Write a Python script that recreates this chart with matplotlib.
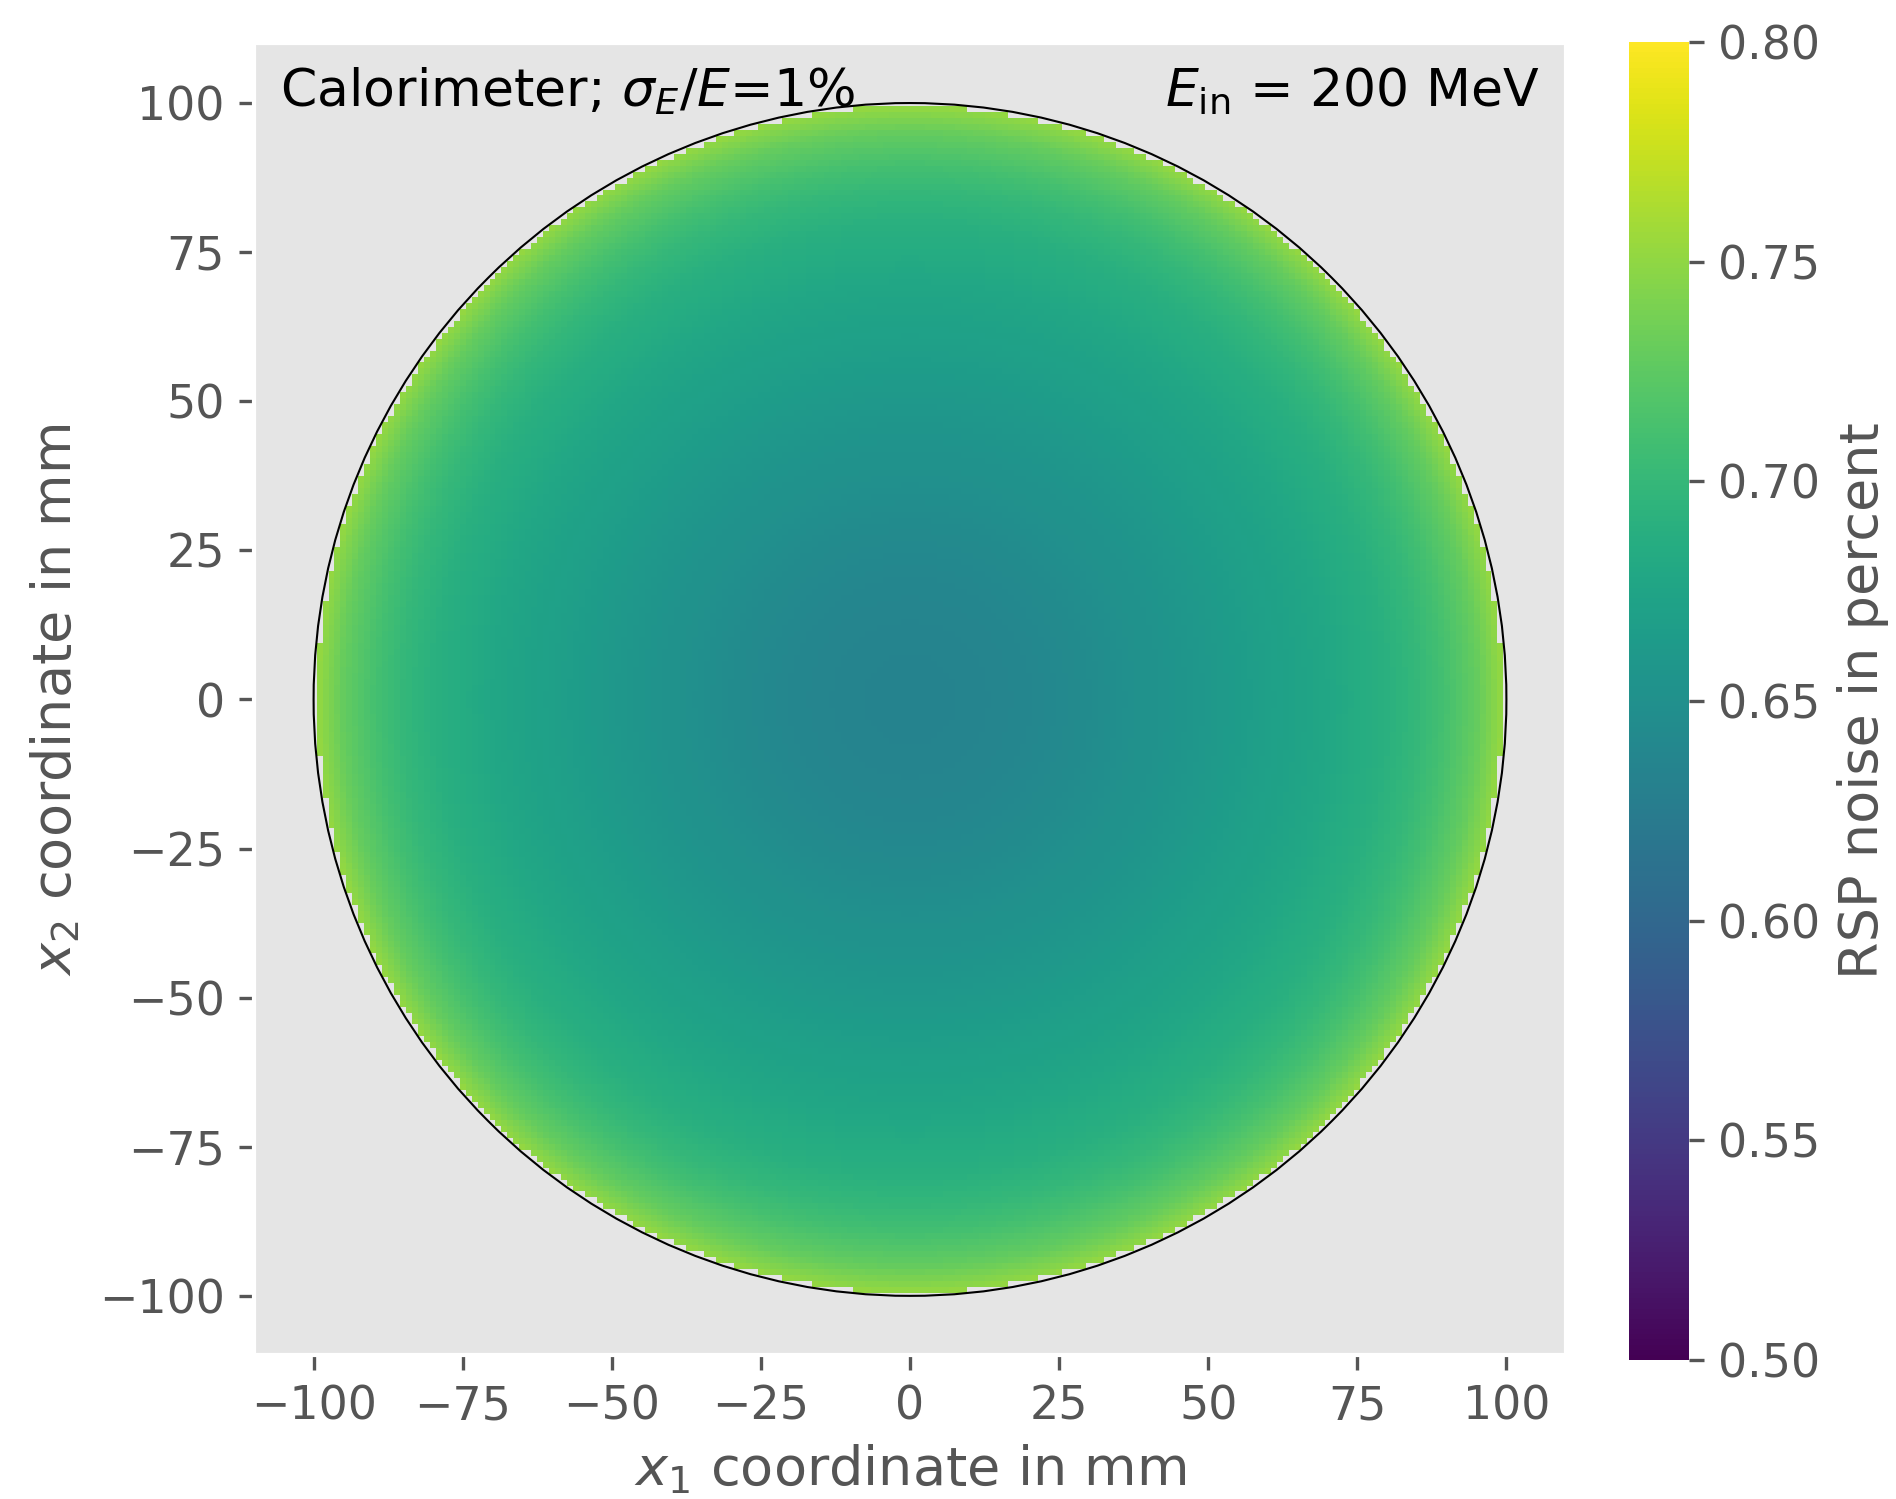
import numpy as np
import matplotlib
matplotlib.use("Agg")
import matplotlib.pyplot as plt
from matplotlib.patches import Circle

plt.style.use("ggplot")

# radial noise profile (radius in mm, RSP noise in %)
radius_mm = [0, 10, 20, 30, 40, 50, 60, 70, 80, 85, 90, 95, 100]
noise_pct = [0.634, 0.635, 0.638, 0.644, 0.652, 0.660, 0.669, 0.678,
             0.690, 0.699, 0.712, 0.729, 0.755]

detector_radius = 100
pixel_mm = 1.0
cbar_ticks = [0.50, 0.55, 0.60, 0.65, 0.70, 0.75, 0.80]

# 1 mm pixels centred on integer positions; keep only pixels fully inside
centers = np.arange(-detector_radius, detector_radius + pixel_mm, pixel_mm)
edges = np.append(centers - pixel_mm / 2, centers[-1] + pixel_mm / 2)
X, Y = np.meshgrid(centers, centers)
R = np.hypot(X, Y)
R_corner = np.hypot(np.abs(X) + pixel_mm / 2, np.abs(Y) + pixel_mm / 2)
noise = np.interp(R, radius_mm, noise_pct)
noise = np.ma.masked_where(R_corner > detector_radius, noise)

fig = plt.figure(figsize=(6.32, 4.997), dpi=300)
ax = fig.add_axes([253 / 1896, 1 - 1355.5 / 1499, 1314 / 1896, 1312 / 1499])
cax = fig.add_axes([1629 / 1896, 1 - 1360 / 1499, 60 / 1896, 1318 / 1499])

ax.set_facecolor("#E5E5E5")
ax.grid(False)
im = ax.pcolormesh(edges, edges, noise, cmap="viridis", vmin=0.5, vmax=0.8,
                   shading="flat", rasterized=True)
ax.add_patch(Circle((0, 0), detector_radius, fill=False, ec="black", lw=0.5))
ax.set_xlim(-110, 110)
ax.set_ylim(-110, 110)
ax.set_aspect("equal")
ax.set_xticks(np.arange(-100, 101, 25))
ax.set_yticks(np.arange(-100, 101, 25))
ax.tick_params(labelsize=11, colors="#555555")
ax.set_xlabel(r"$x_1$ coordinate in mm", fontsize=13, color="#555555",
              labelpad=3)
ax.set_ylabel(r"$x_2$ coordinate in mm", fontsize=13, color="#555555")

ax.text(0.02, 0.983, r"Calorimeter; $\sigma_E/E$=1%", transform=ax.transAxes,
        ha="left", va="top", fontsize=12.5, color="black")
ax.text(0.98, 0.983, r"$E_{\mathrm{in}}$ = 200 MeV", transform=ax.transAxes,
        ha="right", va="top", fontsize=12.5, color="black")

cb = fig.colorbar(im, cax=cax, ticks=cbar_ticks)
cb.outline.set_visible(False)
cb.ax.tick_params(labelsize=11, colors="#555555")
cb.ax.set_yticklabels([f"{t:.2f}" for t in cbar_ticks])
cb.set_label("RSP noise in percent", fontsize=13, color="#555555")

fig.savefig("out.png", dpi=300)
